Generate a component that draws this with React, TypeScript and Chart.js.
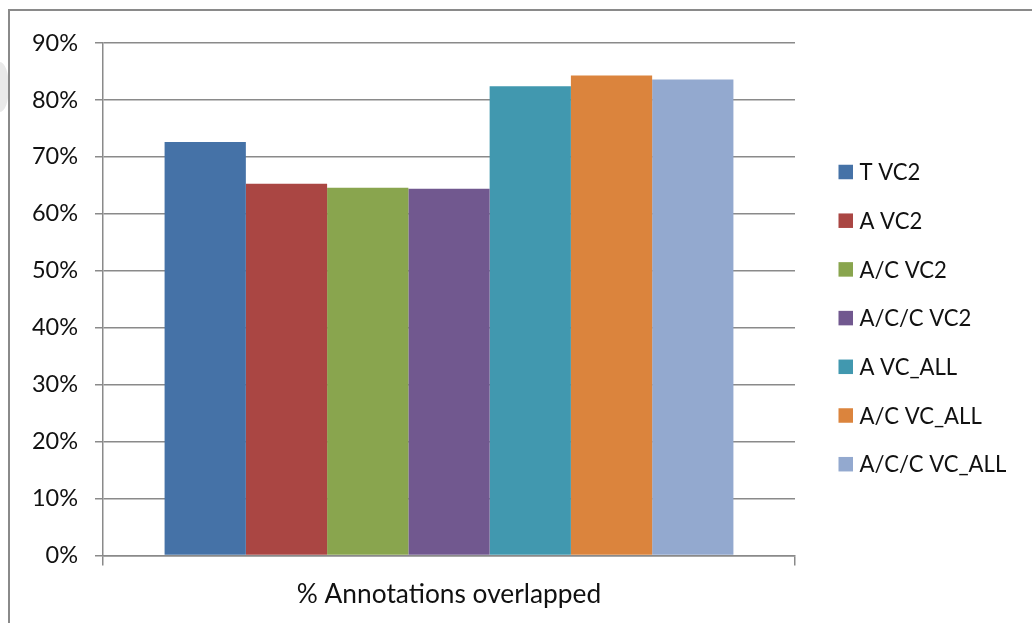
import React, { useEffect, useRef } from "react";
import { Chart, registerables } from "chart.js";

Chart.register(...registerables);

const categories = ["% Annotations overlapped"];
const seriesNames = ["T VC2", "A VC2", "A/C VC2", "A/C/C VC2", "A VC_ALL", "A/C VC_ALL", "A/C/C VC_ALL"];
const seriesValues = [72.6, 65.3, 64.6, 64.4, 82.4, 84.3, 83.6];
const seriesColors = ["#4572A7", "#AA4643", "#89A54E", "#71588F", "#4198AF", "#DB843D", "#93A9CF"];
const yTicks = [0, 10, 20, 30, 40, 50, 60, 70, 80, 90];

const FONT = "Lato, 'Open Sans', sans-serif";
const GRID = "#8a8a8a";

function fitSize(text: string, targetWidth: number): number {
  const c = document.createElement("canvas").getContext("2d")!;
  c.font = `20px ${FONT}`;
  const w = c.measureText(text).width;
  return Math.round((20 * targetWidth) / w * 10) / 10;
}

function makeLegendPlugin(size: number) {
  return {
    id: "customLegend",
    afterDraw(chart: any) {
      const ctx = chart.ctx;
      const startY = 172;
      const step = 48.7;
      const boxX = 838.5;
      const box = 14.5;
      const textX = 859.5;
      ctx.save();
      ctx.font = `${size}px ${FONT}`;
      ctx.textBaseline = "middle";
      ctx.textAlign = "left";
      chart.data.datasets.forEach((ds: any, i: number) => {
        const cy = startY + i * step;
        ctx.fillStyle = ds.backgroundColor;
        ctx.fillRect(boxX, cy - box / 2, box, box);
        ctx.fillStyle = "#111";
        ctx.fillText(ds.label, textX, cy + 1);
      });
      ctx.restore();
    },
  };
}

export default function App() {
  const ref = useRef<HTMLCanvasElement>(null);
  useEffect(() => {
    document.body.style.margin = "0";
    const xSize = fitSize(categories[0], 304);
    const ySize = fitSize("10%", 46);
    const legendSize = fitSize("A/C/C VC_ALL", 147);
    const chart = new Chart(ref.current!, {
      type: "bar",
      data: {
        labels: categories,
        datasets: seriesNames.map((name, i) => ({
          label: name,
          data: [seriesValues[i]],
          backgroundColor: seriesColors[i],
          borderWidth: 0,
          categoryPercentage: 0.822,
          barPercentage: 1,
        })),
      },
      options: {
        animation: false,
        responsive: false,
        maintainAspectRatio: false,
        layout: { padding: { left: 0, right: 237, top: 43, bottom: 0 } },
        plugins: { legend: { display: false }, tooltip: { enabled: false } },
        scales: {
          x: {
            afterFit: (s: any) => {
              s.height = 67.5;
            },
            grid: {
              offset: true,
              drawOnChartArea: false,
              drawTicks: true,
              tickLength: 10,
              color: GRID,
              lineWidth: 1.5,
            },
            border: { display: true, color: GRID, width: 1.5 },
            ticks: {
              color: "#111",
              padding: 13,
              font: { family: FONT, size: xSize },
            },
          },
          y: {
            min: 0,
            max: 90,
            afterFit: (s: any) => {
              s.width = 103;
            },
            afterBuildTicks: (s: any) => {
              s.ticks = yTicks.map((v) => ({ value: v }));
            },
            grid: {
              color: GRID,
              lineWidth: 1.5,
              tickLength: 8,
              drawTicks: true,
            },
            border: { display: true, color: GRID, width: 1.5 },
            ticks: {
              color: "#111",
              padding: 17,
              font: { family: FONT, size: ySize },
              callback: (v: any) => `${v}%`,
            },
          },
        },
      },
      plugins: [makeLegendPlugin(legendSize)],
    });
    return () => chart.destroy();
  }, []);

  return (
    <div style={{ position: "relative", width: 1032, height: 623, background: "#fff", overflow: "hidden" }}>
      <div
        style={{
          position: "absolute",
          left: 0,
          top: 62,
          width: 9,
          height: 50,
          background: "#e9e9e9",
          borderTopRightRadius: "9px 25px",
          borderBottomRightRadius: "9px 25px",
        }}
      />
      <div
        style={{
          position: "absolute",
          left: 8,
          top: 9,
          width: 1032,
          height: 623,
          borderTop: "2px solid #8a8a8a",
          borderLeft: "2px solid #8a8a8a",
        }}
      />
      <canvas ref={ref} width={1032} height={623} style={{ position: "absolute", left: 0, top: 0 }} />
    </div>
  );
}
